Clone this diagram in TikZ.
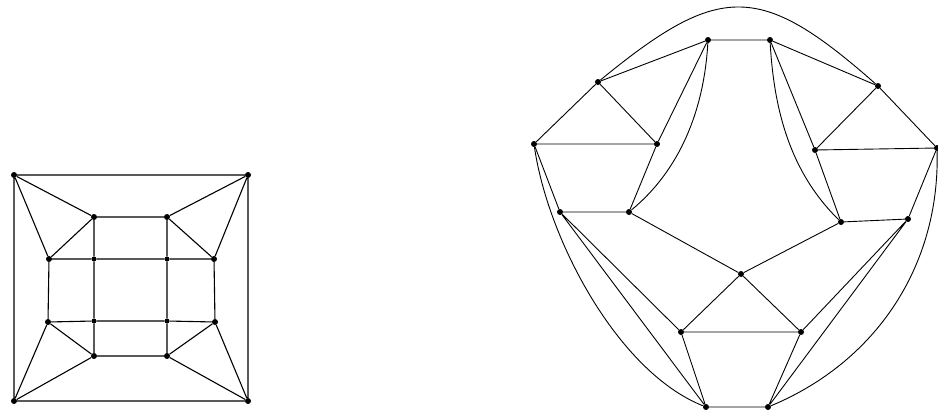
\documentclass[tikz,border=0pt]{standalone}
\begin{document}
\begin{tikzpicture}[x=1pt,y=-1pt,
  dot/.style={circle,fill=black,inner sep=0pt,minimum size=6pt},
  smalldot/.style={circle,fill=black,inner sep=0pt,minimum size=5pt},
  edge/.style={draw=black,line width=1.1pt},
  redge/.style={draw=black,line width=0.9pt}]
\useasboundingbox (0,0) rectangle (938,413);
% ---------- left graph ----------
\node[dot] (TL) at (14,175) {};
\node[dot] (TR) at (248,175) {};
\node[dot] (BL) at (14,401) {};
\node[dot] (BR) at (248,401) {};
\node[dot] (i1) at (94,217) {};
\node[dot] (i2) at (167,217) {};
\node[dot] (m1) at (49,259) {};
\node[smalldot] (m2) at (94,259) {};
\node[smalldot] (m3) at (167,259) {};
\node[dot] (m4) at (214,259) {};
\node[dot] (n1) at (48,322) {};
\node[smalldot] (n2) at (94,321) {};
\node[smalldot] (n3) at (167,321) {};
\node[dot] (n4) at (215,322) {};
\node[dot] (k1) at (94,356) {};
\node[dot] (k2) at (167,356) {};
\path[edge] (TL)--(TR) (TR)--(BR) (BR)--(BL) (BL)--(TL)
  (TL)--(i1) (TL)--(m1) (TR)--(i2) (TR)--(m4)
  (BL)--(n1) (BL)--(k1) (BR)--(n4) (BR)--(k2)
  (i1)--(i2) (i1)--(m1) (i2)--(m4)
  (i1)--(m2) (m2)--(n2) (n2)--(k1)
  (i2)--(m3) (m3)--(n3) (n3)--(k2)
  (m1)--(m2) (m2)--(m3) (m3)--(m4)
  (n1)--(n2) (n2)--(n3) (n3)--(n4)
  (m1)--(n1) (m4)--(n4) (n1)--(k1) (n4)--(k2) (k1)--(k2);
% ---------- right graph ----------
\node[dot] (t1) at (708,40) {};
\node[dot] (t2) at (770,40) {};
\node[dot] (a1) at (598,82) {};
\node[dot] (b1l) at (534,144) {};
\node[dot] (b1r) at (657,144) {};
\node[dot] (f1l) at (560,212) {};
\node[dot] (f1r) at (629,212) {};
\node[dot] (a3) at (878,86) {};
\node[dot] (b3l) at (815,150) {};
\node[dot] (b3r) at (937,148) {};
\node[dot] (f3l) at (841,222) {};
\node[dot] (f3r) at (908,219) {};
\node[dot] (a4) at (741,274) {};
\node[dot] (b4l) at (681,332) {};
\node[dot] (b4r) at (801,332) {};
\node[dot] (f4l) at (706,407) {};
\node[dot] (f4r) at (768,407) {};
\path[redge] (t1)--(t2) (t1)--(a1) (t2)--(a3)
  (t1)--(b1r) (t2)--(b3l)
  (a1)--(b1l) (a1)--(b1r) (b1l)--(b1r) (b1l)--(f1l) (b1r)--(f1r) (f1l)--(f1r)
  (a3)--(b3l) (a3)--(b3r) (b3l)--(b3r) (b3l)--(f3l) (b3r)--(f3r) (f3l)--(f3r)
  (a4)--(b4l) (a4)--(b4r) (b4l)--(b4r) (b4l)--(f4l) (b4r)--(f4r) (f4l)--(f4r)
  (a4)--(f1r) (a4)--(f3l)
  (f1l)--(b4l) (f1l)--(f4l)
  (f3r)--(b4r) (f3r)--(f4r);
\draw[redge] (t1) .. controls (704,110) and (680,170) .. (f1r);
\draw[redge] (t2) .. controls (774,110) and (790,172) .. (f3l);
\draw[redge] (b1l) .. controls (548,240) and (618,372) .. (f4l);
\draw[redge] (b3r) .. controls (940,266) and (876,362) .. (f4r);
\draw[redge] (a1) .. controls (720,-18) and (760,-18) .. (a3);
\end{tikzpicture}
\end{document}
